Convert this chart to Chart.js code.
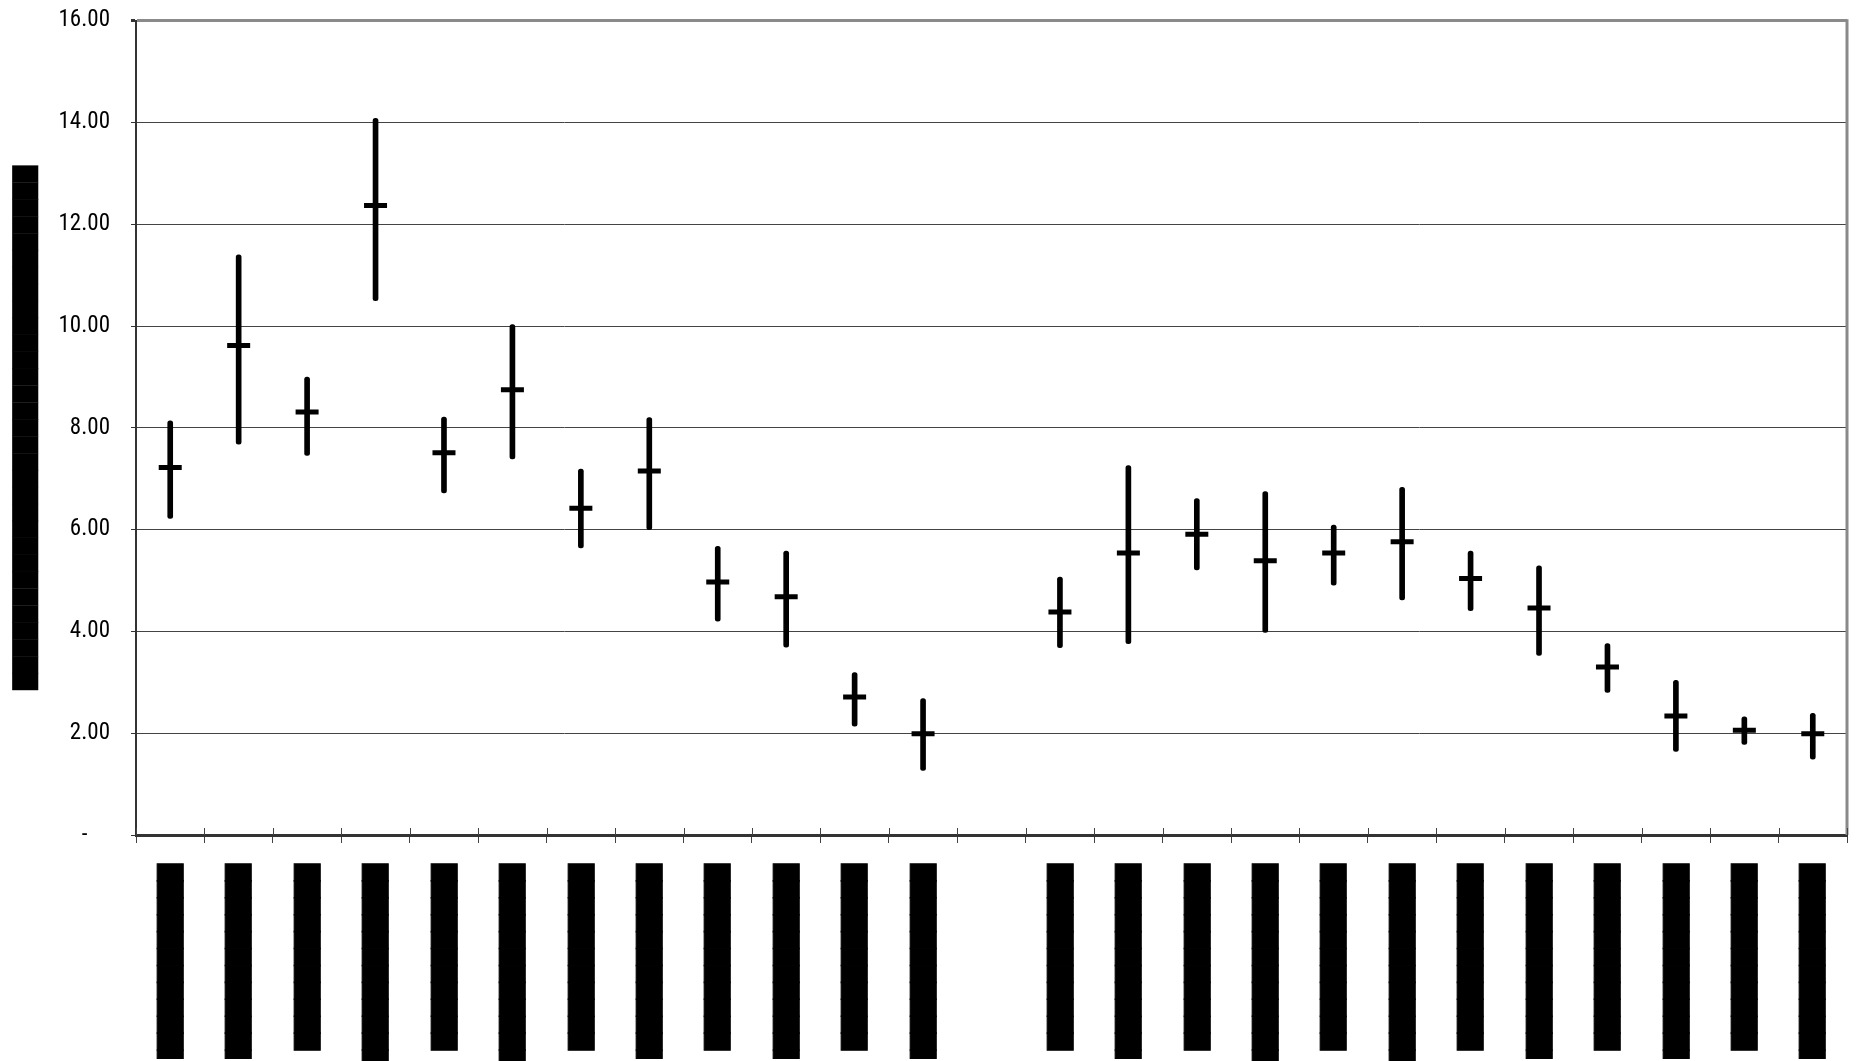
<!DOCTYPE html>
<html>
<head>
<meta charset="utf-8">
<script src="https://cdn.jsdelivr.net/npm/chart.js@4.4.0/dist/chart.umd.min.js"></script>
<style>
  html, body { margin: 0; padding: 0; background: #fff; }
  #wrap { width: 1856px; height: 1061px; position: relative; }
</style>
</head>
<body>
<div id="wrap"><canvas id="rangeChart"></canvas></div>
<script>
// categories (labels are redacted in the source, shown as solid blocks)
const categories = [
    '▐███████████', '▐███████████', '███████████', '████████████', '███████████',
    '████████████', '███████████', '▐███████████', '███████████', '▐███████████',
    '███████████', '▐███████████', '', '███████████', '▐███████████',
    '███████████', '████████████', '███████████', '████████████', '███████████',
    '▐███████████', '███████████', '▐███████████', '███████████', '▐███████████'
];

const meanValues = [7.22, 9.62, 8.31, 12.37, 7.51, 8.75, 6.42, 7.15, 4.97, 4.68, 2.71, 1.99, null,
    4.38, 5.54, 5.91, 5.39, 5.54, 5.76, 5.04, 4.46, 3.30, 2.34, 2.06, 1.99];
const highValues = [8.14, 11.40, 9.00, 14.08, 8.21, 10.03, 7.19, 8.20, 5.67, 5.58, 3.19, 2.68, null,
    5.07, 7.26, 6.61, 6.75, 6.09, 6.83, 5.58, 5.29, 3.76, 3.04, 2.32, 2.39];
const lowValues = [6.22, 7.68, 7.46, 10.50, 6.72, 7.39, 5.64, 6.00, 4.20, 3.69, 2.14, 1.27, null,
    3.68, 3.76, 5.21, 3.98, 4.91, 4.62, 4.41, 3.53, 2.80, 1.64, 1.78, 1.49];

const yTickLabels = ['-\u2007\u2007', '2.00', '4.00', '6.00', '8.00', '10.00', '12.00', '14.00', '16.00'];
const yTitle = '███████████████████████████████';

const rangeData = lowValues.map((low, i) => (low === null ? null : [low, highValues[i]]));

const frameExtras = {
    id: 'frameExtras',
    afterDraw(chart) {
        const { ctx, chartArea } = chart;
        const x = chart.scales.x;
        ctx.save();
        // grey right border
        ctx.strokeStyle = '#8a8a8a';
        ctx.lineWidth = 3;
        ctx.beginPath();
        ctx.moveTo(chartArea.right, chartArea.top - 1.5);
        ctx.lineTo(chartArea.right, chartArea.bottom);
        ctx.stroke();
        // category ticks also poke up into the plot
        const step = x.getPixelForTick(1) - x.getPixelForTick(0);
        ctx.strokeStyle = '#444';
        ctx.lineWidth = 1;
        ctx.beginPath();
        for (let i = 0; i <= categories.length; i++) {
            const bx = Math.round(x.getPixelForTick(0) - step / 2 + i * step) + 0.5;
            ctx.moveTo(bx, chartArea.bottom - 7);
            ctx.lineTo(bx, chartArea.bottom);
        }
        ctx.stroke();
        ctx.restore();
    }
};

new Chart(document.getElementById('rangeChart'), {
    type: 'bar',
    data: {
        labels: categories,
        datasets: [
            {
                label: 'Range',
                data: rangeData,
                backgroundColor: '#000',
                barThickness: 5,
                borderRadius: 3,
                borderSkipped: false
            },
            {
                type: 'line',
                label: 'Mean',
                data: meanValues,
                showLine: false,
                pointStyle: 'line',
                pointRadius: 11.5,
                pointBorderWidth: 5,
                pointBorderColor: '#000',
                pointBackgroundColor: '#000'
            }
        ]
    },
    options: {
        responsive: true,
        maintainAspectRatio: false,
        animation: false,
        events: [],
        layout: {
            autoPadding: false,
            padding: { left: 0, top: 20.7, right: 9, bottom: 0 }
        },
        plugins: {
            legend: { display: false },
            tooltip: { enabled: false }
        },
        scales: {
            x: {
                offset: true,
                afterFit: scale => {
                    scale.height = 226;
                    scale.paddingLeft = 0;
                    scale.paddingRight = 0;
                },
                grid: {
                    offset: true,
                    drawOnChartArea: false,
                    drawTicks: true,
                    tickLength: 8,
                    tickColor: '#444'
                },
                border: { color: '#333', width: 3 },
                ticks: {
                    autoSkip: false,
                    maxRotation: 90,
                    minRotation: 90,
                    padding: 21,
                    labelOffset: 2,
                    color: '#000',
                    textStrokeColor: '#000',
                    textStrokeWidth: 1,
                    font: { family: 'DejaVu Sans', size: 22 }
                }
            },
            y: {
                min: 0,
                max: 16,
                afterFit: scale => {
                    scale.width = 136;
                    scale.paddingTop = 0;
                    scale.paddingBottom = 0;
                },
                grid: {
                    color: ctx => (ctx.tick && ctx.tick.value === 16 ? '#8a8a8a' : '#444'),
                    lineWidth: ctx => (ctx.tick && ctx.tick.value === 16 ? 3 : 1),
                    tickLength: 5,
                    tickColor: '#333'
                },
                border: { color: '#333', width: 2 },
                title: {
                    display: true,
                    text: yTitle,
                    color: '#000',
                    padding: { top: 14.5, bottom: 0 },
                    font: { family: 'DejaVu Sans', size: 22 }
                },
                ticks: {
                    stepSize: 2,
                    padding: 21,
                    color: '#000',
                    font: { family: '"Roboto Condensed", "Liberation Sans"', size: 23 },
                    callback: value => yTickLabels[value / 2]
                }
            }
        }
    },
    plugins: [frameExtras]
});
</script>
</body>
</html>
